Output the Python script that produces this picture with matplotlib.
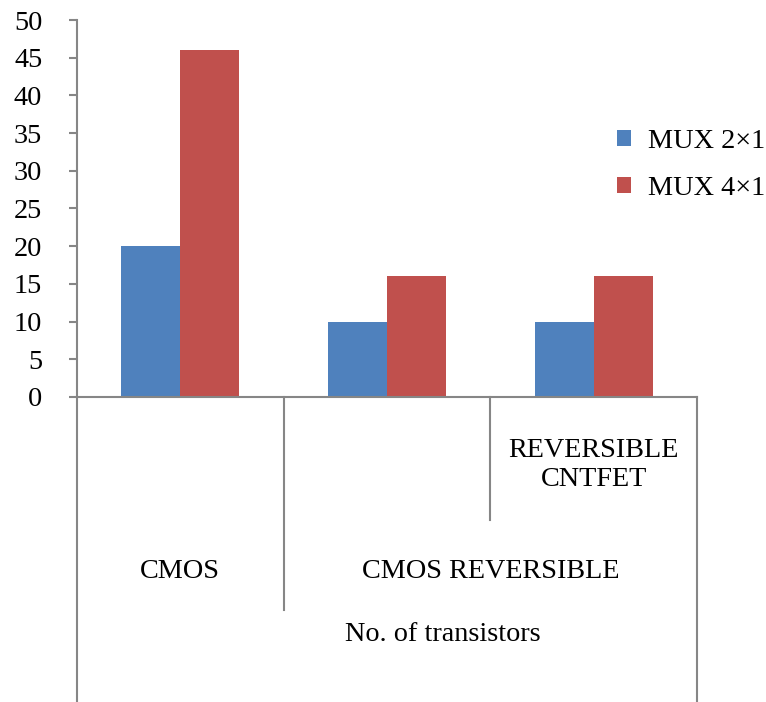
import matplotlib
matplotlib.use('Agg')
import matplotlib.pyplot as plt
import matplotlib.transforms as mtransforms
import numpy as np

# Data
categories = ["CMOS", "CMOS REVERSIBLE", "REVERSIBLE\nCNTFET"]
mux_2x1 = [20, 10, 10]
mux_4x1 = [46, 16, 16]
series_names = ["MUX 2×1", "MUX 4×1"]
y_ticks = list(range(0, 51, 5))

blue = "#4F81BD"
red = "#C0504D"
grey = "#868686"

plt.rcParams['font.family'] = ['Liberation Serif', 'DejaVu Serif']
plt.rcParams['font.size'] = 20.3

fig = plt.figure(figsize=(7.66, 7.02), dpi=100)
ax = fig.add_axes([0.1005, 0.4345, 0.8095, 0.537])

x = np.arange(len(categories)) + 0.5
w = 0.286
ax.bar(x - w / 2, mux_2x1, width=w, color=blue, label=series_names[0])
ax.bar(x + w / 2, mux_4x1, width=w, color=red, label=series_names[1])

ax.set_xlim(0, 3)
ax.set_ylim(0, 50)
ax.set_yticks(y_ticks)
ax.set_xticks([])
for s in ["top", "right"]:
    ax.spines[s].set_visible(False)
for s in ["left", "bottom"]:
    ax.spines[s].set_color(grey)
    ax.spines[s].set_linewidth(1.5)
ax.tick_params(axis="y", direction="out", length=6, width=1.5, color=grey, pad=19)

# multi-level category axis below the plot
trans = mtransforms.blended_transform_factory(ax.transData, ax.transAxes)
line_kw = dict(color=grey, lw=1.5, transform=trans, clip_on=False)
ax.plot([0, 0], [0, -0.81], **line_kw)
ax.plot([3, 3], [0, -0.81], **line_kw)
ax.plot([1, 1], [0, -0.565], **line_kw)
ax.plot([2, 2], [0, -0.326], **line_kw)

ax.text(2.5, -0.18, categories[2], transform=trans, ha="center", va="center",
        linespacing=1.2)
ax.text(0.5, -0.464, categories[0], transform=trans, ha="center", va="center")
ax.text(2.0, -0.464, categories[1], transform=trans, ha="center", va="center")
ax.text(1.77, -0.631, "No. of transistors", transform=trans, ha="center", va="center")

fig.legend(loc="center left", bbox_to_anchor=(0.805, 0.765), frameon=False,
           handlelength=0.5, handleheight=0.5, handletextpad=0.6, labelspacing=0.8,
           borderaxespad=0, borderpad=0)

fig.savefig("out.png", dpi=100)
